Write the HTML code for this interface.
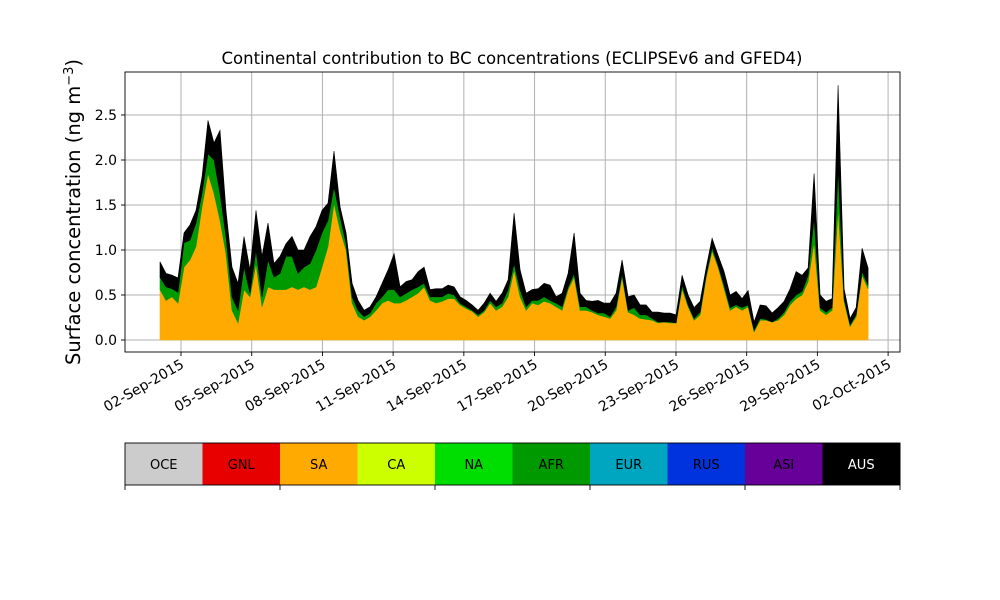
<!DOCTYPE html>
<html><head><meta charset="utf-8"><style>
body{margin:0;background:#fff;}
svg{display:block;font-family:"DejaVu Sans","Liberation Sans",sans-serif;}
</style></head><body>
<svg id="chart" width="1000" height="600" viewBox="0 0 1000 600" xmlns="http://www.w3.org/2000/svg">
<rect width="1000" height="600" fill="#fff"/>
<g id="grid"></g>
<g id="areas"></g>
<rect x="125" y="72" width="775" height="280" fill="none" stroke="#000" stroke-width="0.9"/>
<g id="yticks"></g>
<g id="xticks"></g>
<text x="512" y="64" font-size="16.5" text-anchor="middle">Continental contribution to BC concentrations (ECLIPSEv6 and GFED4)</text>
<text transform="translate(80,212) rotate(-90)" font-size="19.5" text-anchor="middle">Surface concentration (ng m<tspan baseline-shift="super" font-size="13">−3</tspan>)</text>
<g id="legend"></g>
</svg>
<script>
const tickLabels=["02-Sep-2015","05-Sep-2015","08-Sep-2015","11-Sep-2015","14-Sep-2015","17-Sep-2015","20-Sep-2015","23-Sep-2015","26-Sep-2015","29-Sep-2015","02-Oct-2015"];
const tickDays=[1,4,7,10,13,16,19,22,25,28,31];
const yTicks=[0,0.5,1.0,1.5,2.0,2.5];
const t0=0.11, dt=0.2546;
const SA=[.56,.44,.48,.41,.81,.89,1.04,1.48,1.85,1.63,1.33,.96,.33,.19,.56,.48,.85,.37,.59,.56,.56,.56,.59,.56,.59,.56,.59,.81,1.04,1.52,1.22,1.0,.41,.26,.22,.26,.33,.41,.44,.41,.41,.44,.48,.52,.59,.44,.41,.43,.46,.46,.39,.35,.32,.26,.31,.41,.33,.37,.48,.78,.48,.33,.41,.39,.43,.41,.37,.33,.56,.70,.33,.33,.31,.28,.26,.24,.33,.70,.31,.28,.24,.23,.22,.19,.20,.19,.19,.57,.37,.22,.28,.69,.99,.81,.57,.33,.37,.33,.37,.09,.22,.22,.20,.22,.28,.39,.46,.50,.65,1.09,.33,.28,.33,1.46,.43,.15,.26,.72,.57];
const AFR=[.14,.15,.09,.12,.27,.22,.26,.15,.22,.37,.30,.19,.15,.14,.25,.04,.15,.11,.30,.14,.18,.37,.34,.18,.22,.29,.41,.38,.29,.18,.15,.07,.07,.07,.04,.04,.08,.07,.12,.15,.07,.08,.08,.07,.04,.04,.07,.05,.06,.04,.02,.02,.01,.02,.02,.03,.04,.04,.08,.07,.08,.04,.03,.05,.05,.03,.04,.04,.03,.04,.04,.04,.02,.02,.04,.02,.04,.04,.02,.08,.04,.05,.02,.01,.00,.01,.00,.04,.02,.02,.03,.03,.04,.02,.04,.03,.02,.03,.02,.02,.02,.01,.00,.02,.03,.04,.04,.04,.07,.27,.03,.03,.03,.45,.03,.02,.02,.04,.04];
const AUS=[.17,.15,.15,.16,.11,.17,.14,.18,.37,.19,.70,.29,.33,.30,.34,.26,.44,.45,.41,.15,.19,.14,.22,.26,.19,.30,.26,.25,.19,.40,.11,.12,.15,.11,.07,.07,.07,.15,.22,.40,.11,.13,.11,.17,.18,.08,.09,.09,.09,.09,.07,.07,.06,.05,.08,.08,.06,.11,.11,.56,.22,.15,.12,.13,.15,.17,.07,.15,.15,.45,.15,.07,.10,.14,.11,.15,.15,.15,.15,.14,.11,.11,.07,.11,.10,.10,.09,.11,.11,.12,.12,.08,.10,.11,.15,.14,.15,.10,.16,.09,.15,.15,.10,.12,.12,.14,.26,.18,.08,.49,.14,.12,.10,.92,.11,.07,.08,.26,.19];
const series=[{name:"SA",vals:SA,color:"#ffaa00"},{name:"AFR",vals:AFR,color:"#009900"},{name:"AUS",vals:AUS,color:"#000000"}];
const legendNames=["OCE","GNL","SA","CA","NA","AFR","EUR","RUS","ASI","AUS"];
const legendColors=["#cccccc","#e60000","#ffaa00","#ccff00","#00dd00","#009900","#00a5bf","#0033dd","#660099","#000000"];

const NS="http://www.w3.org/2000/svg";
const xS=d=>181+(d-1)*23.57;
const yS=v=>340-90*v;
function mk(tag,attrs,parent){const e=document.createElementNS(NS,tag);for(const k in attrs)e.setAttribute(k,attrs[k]);parent.appendChild(e);return e;}
const grid=document.getElementById('grid'),xt=document.getElementById('xticks'),yt=document.getElementById('yticks');
tickDays.forEach((d,i)=>{
  const x=xS(d);
  const g=mk('line',{x1:x,x2:x,y1:72,y2:352,stroke:'#b0b0b0','stroke-width':1},grid);
  
  
  const tk=mk('line',{x1:x,x2:x,y1:352,y2:356,stroke:'#000','stroke-width':0.9},xt);
  
  
  const tx=mk('text',{transform:`translate(${x+4},${367}) rotate(-30)`,'font-size':14,'text-anchor':'end'},xt);
  tx.textContent=tickLabels[i];
  
  
});
yTicks.forEach(v=>{
  const y=yS(v);
  const g=mk('line',{x1:125,x2:900,y1:y,y2:y,stroke:'#b0b0b0','stroke-width':1},grid);
  
  
  const tk=mk('line',{x1:121,x2:125,y1:y,y2:y,stroke:'#000','stroke-width':0.9},yt);
  
  
  const tx=mk('text',{x:117,y:y+5,'font-size':14,'text-anchor':'end'},yt);
  tx.textContent=v.toFixed(1);
  
  
});
const areas=document.getElementById('areas');
const n=SA.length;
let base=new Array(n).fill(0);
series.forEach(s=>{
  const top=base.map((b,i)=>b+s.vals[i]);
  let d='';
  for(let i=0;i<n;i++)d+=(i?'L':'M')+xS(t0+i*dt).toFixed(1)+','+yS(top[i]).toFixed(1);
  for(let i=n-1;i>=0;i--)d+='L'+xS(t0+i*dt).toFixed(1)+','+yS(base[i]).toFixed(1);
  const p=mk('path',{d:d+'Z',fill:s.color,stroke:s.color,'stroke-width':0.6},areas);
  
  
  base=top;
});
const lg=document.getElementById('legend');
const cw=77.5;
legendNames.forEach((nm,i)=>{
  const r=mk('rect',{x:125+i*cw,y:443,width:cw+0.5,height:42,fill:legendColors[i]},lg);
  
  
  const t=mk('text',{x:125+i*cw+cw/2,y:469,'font-size':13,'text-anchor':'middle',fill:nm==='AUS'?'#fff':'#000'},lg);
  t.textContent=nm;
  
  
});
const fr=mk('rect',{x:125,y:443,width:775,height:42,fill:'none',stroke:'#000','stroke-width':0.9},lg);


[0,2,4,6,8,10].forEach(k=>{
  const l=mk('line',{x1:125+k*cw,x2:125+k*cw,y1:485,y2:490,stroke:'#000','stroke-width':0.9},lg);
  
  
});
</script>
</body></html>
